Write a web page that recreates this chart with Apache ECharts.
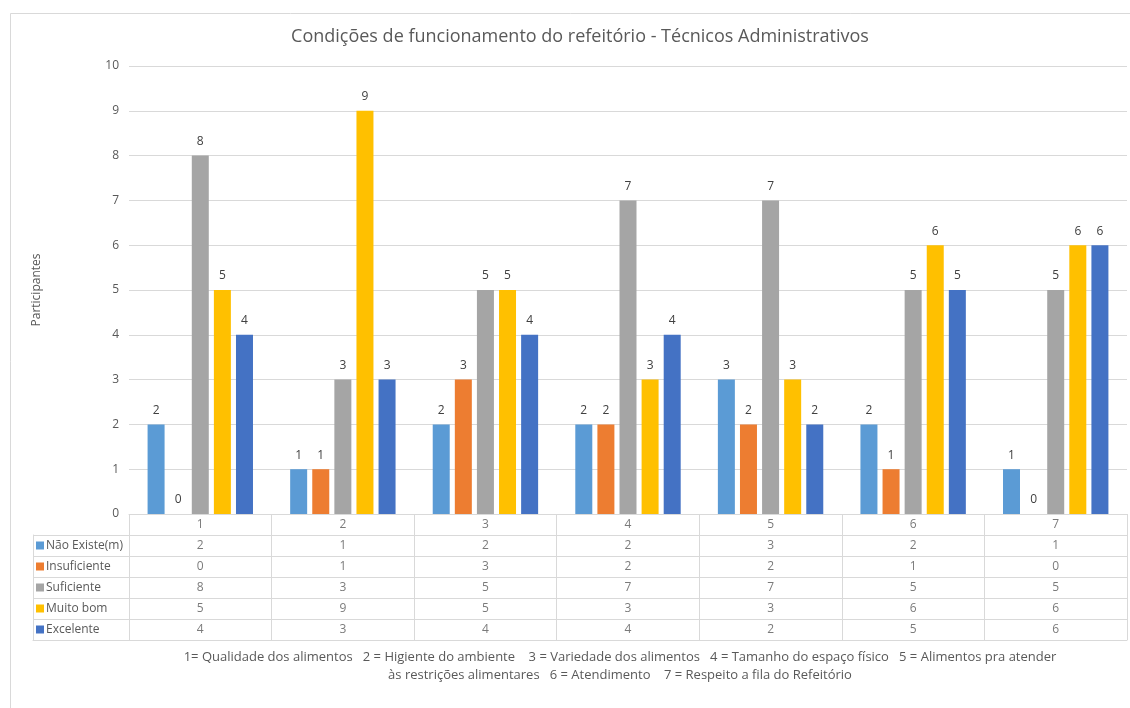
<!DOCTYPE html>
<html>
<head>
<meta charset="utf-8">
<script src="https://cdn.jsdelivr.net/npm/echarts@6/dist/echarts.min.js"></script>
<style>
  html, body { margin: 0; padding: 0; background: #fff; }
  #main { width: 1130px; height: 708px; }
</style>
</head>
<body>
<div id="main"></div>
<script>
const categories = ['1', '2', '3', '4', '5', '6', '7'];
const seriesNames = ['Não Existe(m)', 'Insuficiente', 'Suficiente', 'Muito bom', 'Excelente'];
const naoExiste = [2, 1, 2, 2, 3, 2, 1];
const insuficiente = [0, 1, 3, 2, 2, 1, 0];
const suficiente = [8, 3, 5, 7, 7, 5, 5];
const muitoBom = [5, 9, 5, 3, 3, 6, 6];
const excelente = [4, 3, 4, 4, 2, 5, 6];
const yTicks = [0, 10, 1]; // min, max, interval

const colors = ['#5b9bd5', '#ed7d31', '#a5a5a5', '#ffc000', '#4472c4'];
const allValues = [naoExiste, insuficiente, suficiente, muitoBom, excelente];
const txt = '#595959';
const lineCol = '#d9d9d9';
const font = '"Open Sans", "Noto Sans", sans-serif';

const chart = echarts.init(document.getElementById('main'));

// rows of the data table: header row first, then one row per series
const tableRows = [''].concat(seriesNames);
const cellData = [];
categories.forEach(function (c) {
  cellData.push([c, '', c]);
});
seriesNames.forEach(function (name, s) {
  allValues[s].forEach(function (v, i) {
    cellData.push([categories[i], name, v]);
  });
});

const richLegend = {};
seriesNames.forEach(function (n, i) {
  richLegend['s' + i] = { width: 8, height: 8, backgroundColor: colors[i] };
});
richLegend.t = { color: txt, fontSize: 12, fontFamily: font, padding: [0, 0, 0, 2] };

const barSeries = seriesNames.map(function (name, s) {
  return {
    name: name,
    type: 'bar',
    xAxisIndex: 0,
    yAxisIndex: 0,
    barWidth: 17,
    barGap: '30%',
    itemStyle: { color: colors[s] },
    label: {
      show: true,
      position: 'top',
      distance: 8,
      color: '#404040',
      fontSize: 12,
      fontFamily: font
    },
    data: allValues[s]
  };
});

const option = {
  backgroundColor: '#fff',
  animation: false,
  title: {
    text: 'Condições de funcionamento do refeitório - Técnicos Administrativos',
    left: 575,
    top: 23,
    textAlign: 'center',
    textStyle: { color: txt, fontSize: 18, fontWeight: 'normal', fontFamily: font }
  },
  graphic: [{
    type: 'rect',
    left: 8, top: 11,
    shape: { width: 1140, height: 720 },
    style: { fill: 'none', stroke: lineCol, lineWidth: 1 },
    silent: true,
    z: -10
  }],
  grid: [
    { left: 129, right: 3, top: 66, height: 448 },
    { left: 129, right: 3, top: 514, height: 126 },
    { left: 33, width: 96, top: 535, height: 105 }
  ],
  xAxis: [
    {
      type: 'category', gridIndex: 0, data: categories,
      axisLine: { lineStyle: { color: lineCol } },
      axisTick: { show: false },
      axisLabel: { show: false }
    },
    {
      type: 'category', gridIndex: 1, data: categories,
      axisLine: { show: true, lineStyle: { color: lineCol } },
      axisTick: { show: false },
      axisLabel: { show: false },
      splitLine: { show: true, lineStyle: { color: lineCol } },
      name: '1= Qualidade dos alimentos   2 = Higiente do ambiente    3 = Variedade dos alimentos   4 = Tamanho do espaço físico   5 = Alimentos pra atender\nàs restrições alimentares   6 = Atendimento    7 = Respeito a fila do Refeitório',
      nameLocation: 'middle',
      nameGap: 8,
      nameTextStyle: {
        color: txt, fontSize: 13, fontFamily: font, lineHeight: 18,
        verticalAlign: 'top', padding: [0, 16, 0, 0]
      }
    },
    {
      type: 'category', gridIndex: 2, data: [''],
      axisLine: { show: true, lineStyle: { color: lineCol } },
      axisTick: { show: false },
      axisLabel: { show: false },
      splitLine: { show: true, lineStyle: { color: lineCol } }
    }
  ],
  yAxis: [
    {
      type: 'value', gridIndex: 0,
      min: yTicks[0], max: yTicks[1], interval: yTicks[2],
      name: 'Participantes',
      nameLocation: 'middle',
      nameGap: 86,
      nameRotate: 90,
      nameTextStyle: { color: txt, fontSize: 12, fontFamily: font },
      axisLine: { show: false },
      axisTick: { show: false },
      axisLabel: { color: txt, fontSize: 12, fontFamily: font, margin: 10 },
      splitLine: { lineStyle: { color: lineCol } }
    },
    {
      type: 'category', gridIndex: 1, data: tableRows, inverse: true,
      axisLine: { show: false },
      axisTick: { show: false },
      axisLabel: { show: false },
      splitLine: { show: true, lineStyle: { color: lineCol } }
    },
    {
      type: 'category', gridIndex: 2, data: seriesNames, inverse: true,
      axisLine: { show: true, lineStyle: { color: lineCol } },
      axisTick: { show: false },
      splitLine: { show: true, lineStyle: { color: lineCol } },
      axisLabel: {
        align: 'left',
        margin: -3,
        formatter: function (v, i) {
          return '{s' + i + '|}{t|' + v + '}';
        },
        rich: richLegend
      }
    }
  ],
  series: barSeries.concat([{
    type: 'scatter',
    xAxisIndex: 1,
    yAxisIndex: 1,
    symbolSize: 0,
    silent: true,
    label: {
      show: true,
      position: 'inside',
      color: txt,
      fontSize: 12,
      fontFamily: font,
      formatter: function (p) { return String(p.value[2]); }
    },
    data: cellData
  }])
};

chart.setOption(option);
</script>
</body>
</html>
